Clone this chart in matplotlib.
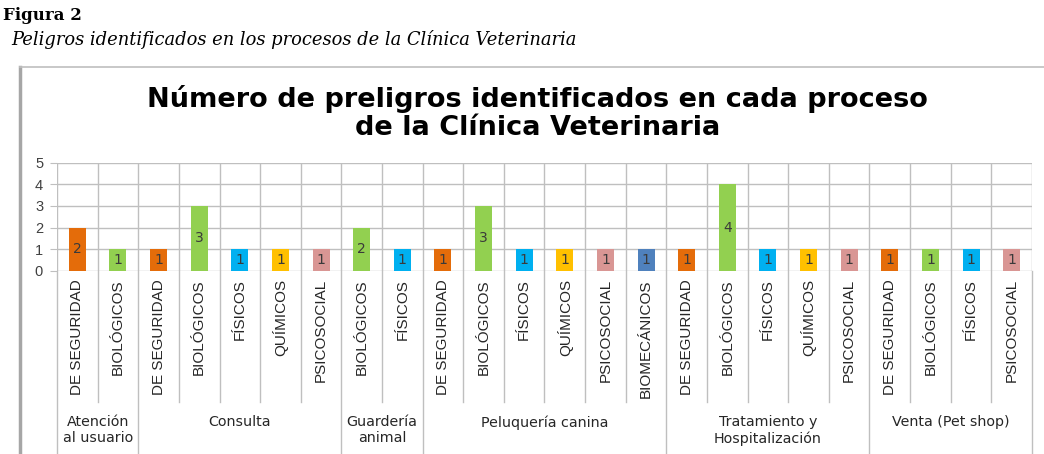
import matplotlib
matplotlib.use("Agg")
import matplotlib.pyplot as plt
from matplotlib.lines import Line2D

plt.rcParams['font.family'] = ['Liberation Sans', 'DejaVu Sans']

# datos
procesos = ['Atención\nal usuario', 'Consulta', 'Guardería\nanimal',
            'Peluquería canina', 'Tratamiento y\nHospitalización', 'Venta (Pet shop)']
peligros = [
    ['DE SEGURIDAD', 'BIOLÓGICOS'],
    ['DE SEGURIDAD', 'BIOLÓGICOS', 'FÍSICOS', 'QUÍMICOS', 'PSICOSOCIAL'],
    ['BIOLÓGICOS', 'FÍSICOS'],
    ['DE SEGURIDAD', 'BIOLÓGICOS', 'FÍSICOS', 'QUÍMICOS', 'PSICOSOCIAL', 'BIOMECÁNICOS'],
    ['DE SEGURIDAD', 'BIOLÓGICOS', 'FÍSICOS', 'QUÍMICOS', 'PSICOSOCIAL'],
    ['DE SEGURIDAD', 'BIOLÓGICOS', 'FÍSICOS', 'PSICOSOCIAL'],
]
valores = [
    [2, 1],
    [1, 3, 1, 1, 1],
    [2, 1],
    [1, 3, 1, 1, 1, 1],
    [1, 4, 1, 1, 1],
    [1, 1, 1, 1],
]
colores = {
    'DE SEGURIDAD': '#E46C0A',
    'BIOLÓGICOS': '#92D050',
    'FÍSICOS': '#00B0F0',
    'QUÍMICOS': '#FFC000',
    'PSICOSOCIAL': '#D99694',
    'BIOMECÁNICOS': '#4F81BD',
}

labels = [p for grupo in peligros for p in grupo]
vals = [v for grupo in valores for v in grupo]
n = len(vals)
x = [i + 0.5 for i in range(n)]

fig = plt.figure(figsize=(10.44, 4.54), dpi=100)
ax = fig.add_axes([0.0546, 0.4037, 0.9339, 0.2379])

bars = ax.bar(x, vals, width=0.42, color=[colores[l] for l in labels], zorder=3)
for b, v in zip(bars, vals):
    ax.text(b.get_x() + b.get_width() / 2, v / 2, str(v), ha='center', va='center',
            fontsize=10, family='DejaVu Sans', color='#3A3A3A', zorder=4)

ax.set_xlim(0, n)
ax.set_ylim(0, 5)
ax.set_yticks(range(6))
ax.tick_params(axis='y', length=5, color='#BFBFBF', labelsize=10.5, labelcolor='#404040', pad=5)
ax.set_xticks(x, labels, rotation=90, fontsize=11, color='#262626')
ax.tick_params(axis='x', length=0, pad=6)
ax.set_xticks(range(n + 1), minor=True)
ax.tick_params(axis='x', which='minor', length=0)
ax.grid(axis='y', color='#BFBFBF', linewidth=1, zorder=0)
ax.grid(axis='x', which='minor', color='#BFBFBF', linewidth=1, zorder=0)
for s in ax.spines.values():
    s.set_visible(False)

# separadores bajo el eje
trans = ax.get_xaxis_transform()
limites = [0]
for grupo in peligros:
    limites.append(limites[-1] + len(grupo))
for i in range(n + 1):
    y0 = -1.72 if i in limites else -1.215
    ax.add_line(Line2D([i, i], [0, y0], transform=trans, color='#BFBFBF',
                       linewidth=1, clip_on=False))
for k, proc in enumerate(procesos):
    cx = (limites[k] + limites[k + 1]) / 2
    ax.text(cx, -1.34, proc, transform=trans, ha='center', va='top', fontsize=10.3,
            family='DejaVu Sans', color='#262626', linespacing=1.15)

# titulo del grafico
fig.text(0.515, 0.751, 'Número de preligros identificados en cada proceso\nde la Clínica Veterinaria',
         ha='center', va='center', fontsize=19.5, family='DejaVu Sans', fontweight='bold',
         linespacing=1.08)

# marco
fig.add_artist(Line2D([0.0195, 0.0195], [0, 0.853], transform=fig.transFigure,
                      color='#A6A6A6', linewidth=2.5))
fig.add_artist(Line2D([0.0195, 1.0], [0.853, 0.853], transform=fig.transFigure,
                      color='#BFBFBF', linewidth=1.2))

# leyenda de figura
fig.text(0.003, 0.965, 'Figura 2', family='DejaVu Serif', fontweight='bold',
         fontsize=12, va='center')
fig.text(0.011, 0.912, 'Peligros identificados en los procesos de la Clínica Veterinaria',
         family='DejaVu Serif', style='italic', fontsize=12.9, va='center')

fig.savefig('out.png', dpi=100)
